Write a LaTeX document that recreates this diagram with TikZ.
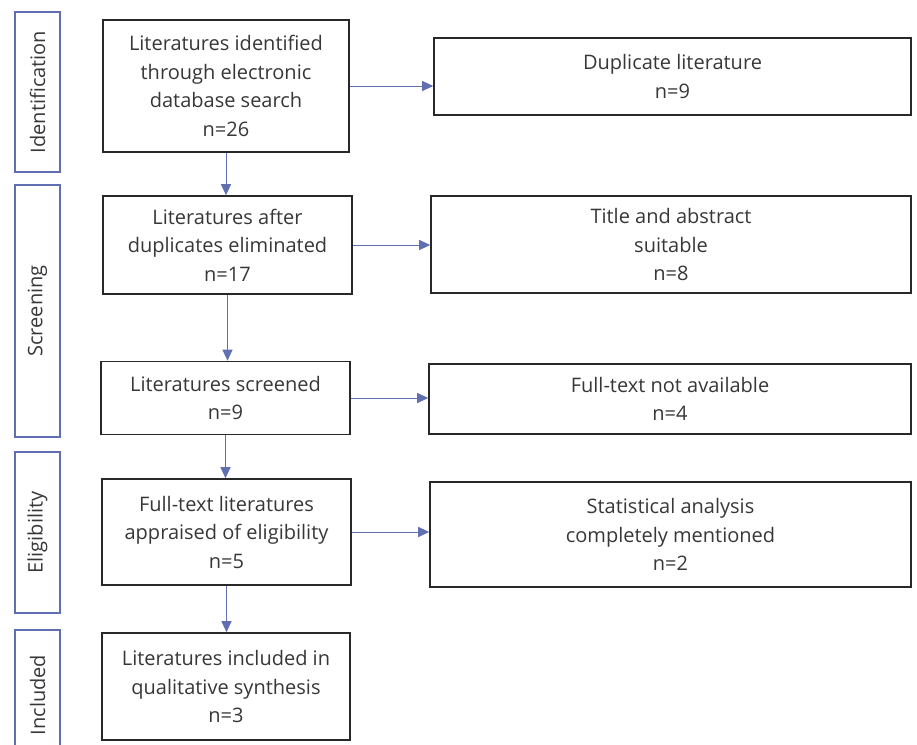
\documentclass[tikz,border=0pt]{standalone}
\usepackage{fontspec}
\setmainfont{Open Sans}
\usepackage{tikz}
\usetikzlibrary{arrows.meta, positioning}
\definecolor{StageBlue}{RGB}{96, 110, 178}
\definecolor{BoxInk}{RGB}{40, 40, 40}
\definecolor{TextInk}{RGB}{55, 55, 55}
\begin{document}
\begin{tikzpicture}[x=1pt, y=-1pt, font=\fontsize{20}{28.5}\selectfont, text=TextInk,
  box/.style={draw=BoxInk, line width=1.6pt, align=center, inner sep=2pt},
  side/.style={draw=StageBlue, line width=1.5pt, rotate=90, minimum height=45pt, inner sep=0pt},
  ar/.style={-{Stealth[length=11pt, width=10pt, inset=0pt]}, StageBlue, line width=1pt}]
\useasboundingbox (0,0) rectangle (917,744);
% stages
\node[side, minimum width=160pt] (s1) at (37.5,92) {Identification};
\node[side, minimum width=252pt] (s2) at (37.5,311) {Screening};
\node[side, minimum width=161pt] (s3) at (37.5,532.5) {Eligibility};
\node[side, minimum width=130pt] (s4) at (37.5,695) {Included};
% left column
\node[box, minimum width=246pt, minimum height=132pt] (l1) at (226,86) {Literatures identified\\through electronic\\database search\\n=26};
\node[box, minimum width=249pt, minimum height=98pt] (l2) at (227.5,245) {Literatures after\\duplicates eliminated\\n=17};
\node[box, minimum width=249pt, minimum height=73pt] (l3) at (225.5,398) {Literatures screened\\n=9};
\node[box, minimum width=249pt, minimum height=106pt] (l4) at (226.5,532) {Full-text literatures\\appraised of eligibility\\n=5};
\node[box, minimum width=248pt, minimum height=107pt] (l5) at (226,686.5) {Literatures included in\\qualitative synthesis\\n=3};
% right column
\node[box, minimum width=477pt, minimum height=77pt] (r1) at (672.5,76.5) {Duplicate literature\\n=9};
\node[box, minimum width=480pt, minimum height=97pt] (r2) at (671,244.5) {Title and abstract\\suitable\\n=8};
\node[box, minimum width=482pt, minimum height=70pt] (r3) at (670,399) {Full-text not available\\n=4};
\node[box, minimum width=481pt, minimum height=105pt] (r4) at (670.5,534.5) {Statistical analysis\\completely mentioned\\n=2};
% flow
\draw[ar] (l1.south) -- (l1.south |- l2.north); \draw[ar] (l2.south) -- (l2.south |- l3.north);
\draw[ar] (l3.south) -- (l3.south |- l4.north); \draw[ar] (l4.south) -- (l4.south |- l5.north);
\draw[ar] (l1.east) -- (l1.east -| r1.west); \draw[ar] (l2.east) -- (l2.east -| r2.west);
\draw[ar] (l3.east) -- (l3.east -| r3.west); \draw[ar] (l4.east) -- (l4.east -| r4.west);
\end{tikzpicture}
\end{document}
